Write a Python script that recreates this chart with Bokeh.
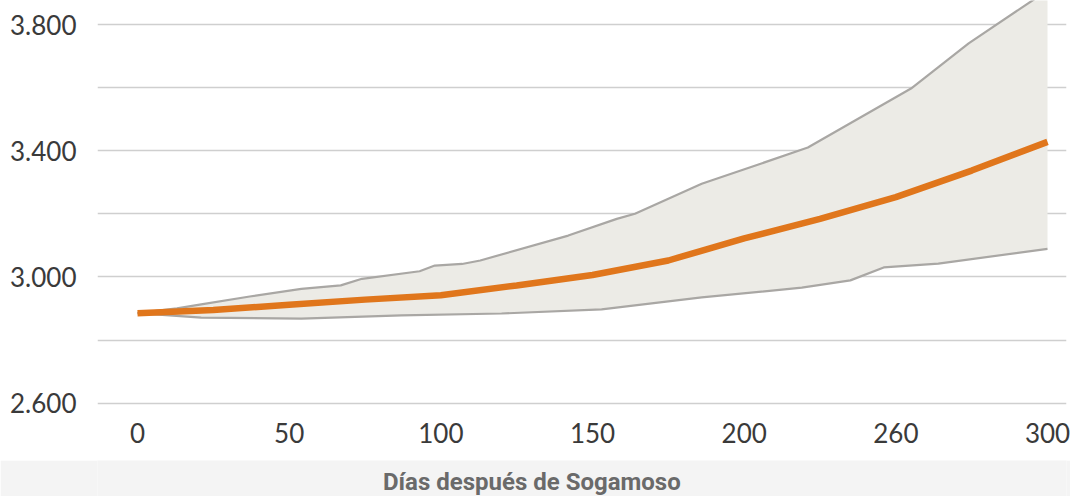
from bokeh.plotting import figure
from bokeh.models import FixedTicker, Label, Range1d
from bokeh.layouts import column
from bokeh.embed import file_html
from bokeh.resources import INLINE

# ---- data ----
mid_days = [0, 25, 50, 75, 100, 125, 150, 175, 200, 225, 250, 275, 300]
mid_vals = [2885, 2895, 2912, 2928, 2942, 2973, 3006, 3052, 3122, 3184, 3253, 3337, 3428]

upper_days = [0, 13, 21, 37, 54, 67, 74, 93, 98, 107, 113, 142, 158, 164, 186, 221, 255, 274, 295, 300]
upper_vals = [2885, 2900, 2913, 2938, 2962, 2973, 2994, 3018, 3036, 3041, 3052, 3131, 3184, 3200, 3295, 3410, 3597, 3740, 3876, 3908]

lower_days = [0, 21, 54, 87, 120, 153, 186, 219, 235, 246, 264, 300]
lower_vals = [2885, 2871, 2868, 2878, 2884, 2897, 2935, 2966, 2989, 3030, 3042, 3089]

x_ticks = [0, 50, 100, 150, 200, 250, 300]
x_tick_labels = ["0", "50", "100", "150", "200", "260", "300"]
y_ticks = [2600, 3000, 3400, 3800]
y_tick_labels = ["2.600", "3.000", "3.400", "3.800"]
y_grid = [2600, 2800, 3000, 3200, 3400, 3600, 3800]
x_title = "Días después de Sogamoso"

W = 1070
x_range = Range1d(-13.19, 306.26)
p = figure(width=W, height=460, output_backend="svg", toolbar_location=None,
           x_range=x_range, y_range=(2592.4, 3876.1),
           min_border_left=97, min_border_right=4, min_border_top=0, min_border_bottom=55)
p.outline_line_color = None
p.background_fill_color = "white"
p.border_fill_color = "white"

# band polygon
band_x = upper_days + lower_days[::-1]
band_y = upper_vals + lower_vals[::-1]
p.patch(band_x, band_y, fill_color="#ecebe6", line_color=None)
p.line(upper_days, upper_vals, line_color="#a9a7a4", line_width=2.2)
p.line(lower_days, lower_vals, line_color="#a9a7a4", line_width=2.2)
p.line(mid_days, mid_vals, line_color="#e0761c", line_width=6.5)

# axes
p.xaxis.ticker = FixedTicker(ticks=x_ticks)
p.xaxis.major_label_overrides = dict(zip(x_ticks, x_tick_labels))
p.yaxis.ticker = FixedTicker(ticks=y_ticks)
p.yaxis.major_label_overrides = dict(zip(y_ticks, y_tick_labels))
for ax in (p.xaxis, p.yaxis):
    ax.axis_line_color = None
    ax.major_tick_line_color = None
    ax.minor_tick_line_color = None
    ax.major_label_text_font = "Lato"
    ax.major_label_text_font_size = "26px"
    ax.major_label_text_color = "#3a3a3a"
p.yaxis.major_label_standoff = 15
p.xaxis.major_label_standoff = 11

p.xgrid.grid_line_color = None
p.ygrid.ticker = FixedTicker(ticks=y_grid)
p.ygrid.grid_line_color = "#cfcfcf"
p.ygrid.grid_line_width = 1.5

# bottom title band (same frame geometry as the chart, shared x range)
b = figure(width=W, height=36, output_backend="svg", toolbar_location=None,
           x_range=x_range, y_range=(0, 36),
           min_border_left=97, min_border_right=4, min_border_top=0, min_border_bottom=0)
b.axis.visible = False
b.grid.visible = False
b.outline_line_color = None
b.background_fill_color = "#f4f4f4"
b.border_fill_color = "#f4f4f4"
b.add_layout(Label(x=130, y=15, text=x_title,
                   text_align="center", text_baseline="middle",
                   text_font="Roboto", text_font_style="bold",
                   text_font_size="24px", text_color="#6a6a6a"))

layout = column(p, b, spacing=0)
open("out.html", "w").write(file_html(layout, INLINE))
